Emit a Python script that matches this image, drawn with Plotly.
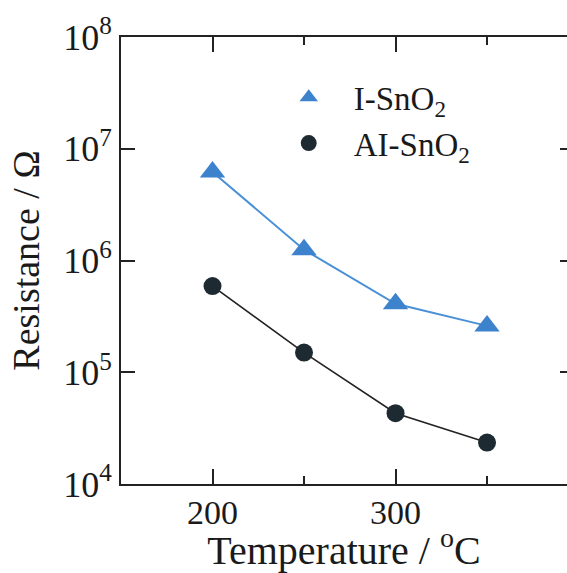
import plotly.graph_objects as go

temps = [200, 250, 300, 350]
i_sno2 = [6.2e6, 1.25e6, 4.1e5, 2.6e5]
ai_sno2 = [5.9e5, 1.5e5, 4.3e4, 2.35e4]
ytick_vals = [1e4, 1e5, 1e6, 1e7, 1e8]
ytick_text = ["10<sup>4</sup>", "10<sup>5</sup>", "10<sup>6</sup>", "10<sup>7</sup>", "10<sup>8</sup>"]
xtick_vals = [200, 300]

blue = "#3c82cc"
dark = "#1e2a31"
font = "Liberation Serif"

fig = go.Figure()
fig.add_trace(go.Scatter(x=temps, y=i_sno2, mode="lines+markers",
                         line=dict(color="#4a90d6", width=2),
                         marker=dict(symbol="triangle-up", size=22, color=blue),
                         showlegend=False))
fig.add_trace(go.Scatter(x=temps, y=ai_sno2, mode="lines+markers",
                         line=dict(color="#222222", width=1.6),
                         marker=dict(symbol="circle", size=18, color=dark),
                         showlegend=False))
# legend-only entries (markers only)
fig.add_trace(go.Scatter(x=[None], y=[None], mode="markers", name="I-SnO<sub>2</sub>",
                         marker=dict(symbol="triangle-up", size=22, color=blue)))
fig.add_trace(go.Scatter(x=[None], y=[None], mode="markers", name="AI-SnO<sub>2</sub>",
                         marker=dict(symbol="circle", size=18, color=dark)))
# invisible trace to carry right-side mirror ticks
fig.add_trace(go.Scatter(x=[None], y=[None], yaxis="y2", showlegend=False))

fig.update_layout(
    width=567, height=573,
    margin=dict(l=121, r=0, t=37, b=89),
    paper_bgcolor="white", plot_bgcolor="white",
    font=dict(family=font, size=36, color="#1a1a1a"),
    showlegend=True,
    legend=dict(x=0.32, y=0.928, xanchor="left", yanchor="top",
                bgcolor="rgba(0,0,0,0)", font=dict(size=33, family=font),
                itemwidth=80, tracegroupgap=0),
    xaxis=dict(range=[150, 393.7], tickvals=xtick_vals, ticks="inside", ticklen=15,
               tickwidth=1.5, tickcolor="#222", showline=True, linecolor="#222",
               linewidth=1.8, mirror="ticks", showgrid=False, zeroline=False,
               minor=dict(dtick=50, ticks="inside", ticklen=8, tickwidth=1.5, tickcolor="#222", showgrid=False),
               ticklabelstandoff=-3,
               title=dict(text="Temperature / <sup>o</sup>C", font=dict(size=40), standoff=8),
               tickfont=dict(size=34)),
    yaxis=dict(type="log", range=[4, 8], tickvals=ytick_vals, ticktext=ytick_text,
               ticks="inside", ticklen=14, tickwidth=1.5, tickcolor="#222",
               showline=True, linecolor="#222", linewidth=1.8, mirror=False,
               showgrid=False, zeroline=False,
               title=dict(text="Resistance / Ω", font=dict(size=38), standoff=12),
               tickfont=dict(size=36)),
    yaxis2=dict(type="log", range=[4, 8], overlaying="y", side="right", anchor="x",
                tickvals=ytick_vals, ticks="inside", ticklen=7, tickwidth=1.5,
                tickcolor="#222", showticklabels=False, showline=False,
                showgrid=False, zeroline=False),
)

fig.write_html("out.html")
